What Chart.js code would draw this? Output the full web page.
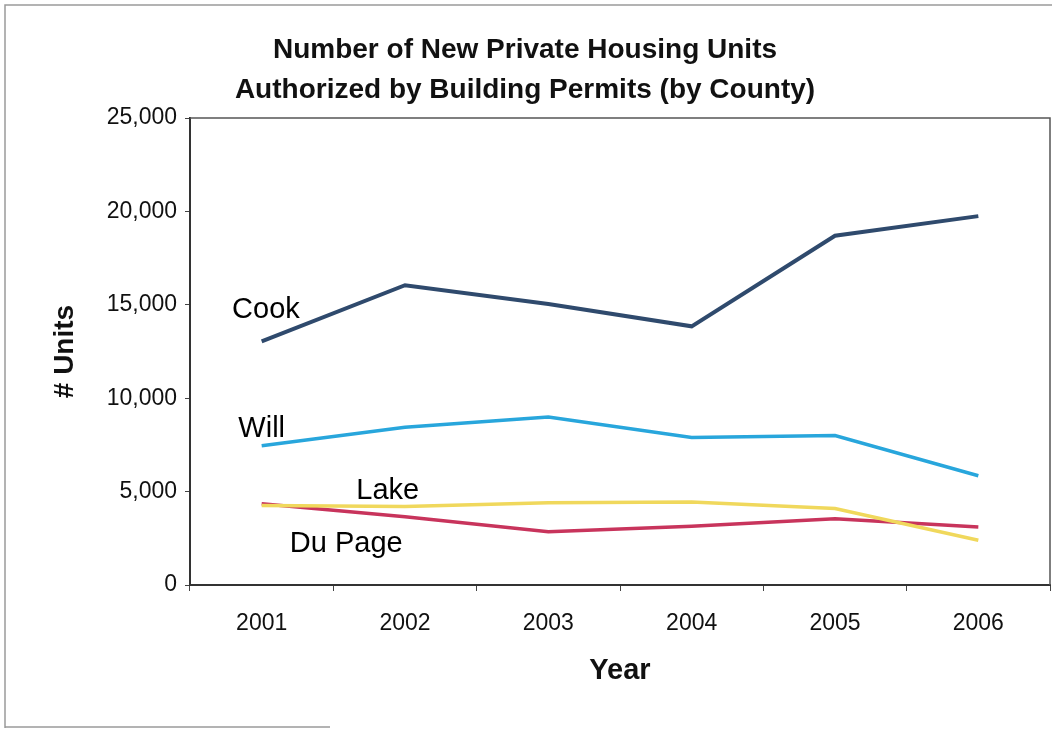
<!DOCTYPE html>
<html>
<head>
<meta charset="utf-8">
<script src="https://cdn.jsdelivr.net/npm/chart.js@4.4.0/dist/chart.umd.min.js"></script>
<style>
html,body{margin:0;padding:0;background:#fff;}
#wrap{width:1057px;height:730px;position:relative;}
</style>
</head>
<body>
<div id="wrap"><canvas id="c" width="1057" height="730"></canvas></div>
<script>
const years = ['2001','2002','2003','2004','2005','2006'];
const cook   = [13050, 16050, 15050, 13850, 18700, 19750];
const will   = [7450, 8450, 9000, 7900, 8000, 5850];
const lake   = [4250, 4200, 4400, 4450, 4100, 2400];
const dupage = [4350, 3650, 2850, 3150, 3550, 3100];
const yTicks = [0, 5000, 10000, 15000, 20000, 25000];
const seriesNames = ['Cook', 'Will', 'Lake', 'Du Page'];
// label anchors in data space: [category index, value]
const labelAnchors = [[0.03, 14750], [0.0, 8350], [0.88, 5050], [0.59, 2200]];

const FONT = "'Liberation Sans', Arial, sans-serif";

const decor = {
  id: 'decor',
  beforeDraw(chart) {
    const ctx = chart.ctx;
    ctx.save();
    ctx.fillStyle = '#fff';
    ctx.fillRect(0, 0, chart.width, chart.height);
    ctx.strokeStyle = '#9a9a9a';
    ctx.lineWidth = 1.5;
    ctx.beginPath();
    ctx.moveTo(5, 728); ctx.lineTo(5, 5); ctx.lineTo(1052, 5);
    ctx.moveTo(5, 727); ctx.lineTo(330, 727);
    ctx.stroke();
    ctx.restore();
  },
  afterDatasetsDraw(chart) {
    const ctx = chart.ctx;
    const a = chart.chartArea;
    ctx.save();
    ctx.strokeStyle = '#555';
    ctx.lineWidth = 1.5;
    ctx.beginPath();
    ctx.moveTo(a.left, a.top); ctx.lineTo(a.right, a.top); ctx.lineTo(a.right, a.bottom);
    ctx.stroke();
    ctx.fillStyle = '#000';
    ctx.font = '29px ' + FONT;
    ctx.textAlign = 'center';
    ctx.textBaseline = 'middle';
    const xs = chart.scales.x, ys = chart.scales.y;
    seriesNames.forEach((n, i) => {
      const [ci, v] = labelAnchors[i];
      const x0 = xs.getPixelForValue(0), x1 = xs.getPixelForValue(1);
      ctx.fillText(n, x0 + (x1 - x0) * ci, ys.getPixelForValue(v));
    });
    ctx.restore();
  }
};

new Chart(document.getElementById('c'), {
  type: 'line',
  data: {
    labels: years,
    datasets: [
      {label: 'Cook', data: cook, borderColor: '#2f4a6d', borderWidth: 4},
      {label: 'Will', data: will, borderColor: '#28a6dc', borderWidth: 3.5},
      {label: 'Lake', data: lake, borderColor: '#f0d85c', borderWidth: 3.5},
      {label: 'Du Page', data: dupage, borderColor: '#c8345c', borderWidth: 3.5}
    ]
  },
  options: {
    responsive: false,
    animation: false,
    devicePixelRatio: 1,
    elements: {point: {radius: 0}, line: {tension: 0}},
    layout: {padding: {left: 0, right: 7, top: 0, bottom: 20}},
    plugins: {
      legend: {display: false},
      tooltip: {enabled: false},
      title: {
        display: true,
        text: ['Number of New Private Housing Units', 'Authorized by Building Permits (by County)'],
        color: '#111',
        font: {family: FONT, size: 28, weight: 'bold', lineHeight: 1.43},
        padding: {top: 30, bottom: 8}
      }
    },
    scales: {
      x: {
        type: 'category',
        offset: true,
        grid: {display: true, drawOnChartArea: false, drawTicks: true, tickLength: 6, color: '#444', offset: true},
        border: {display: true, color: '#333', width: 2},
        ticks: {color: '#111', font: {family: FONT, size: 23}, padding: 19, maxRotation: 0},
        title: {display: true, text: 'Year', color: '#111', font: {family: FONT, size: 29, weight: 'bold'}, padding: {top: 0, bottom: 22}},
        afterFit(s) { s.height = 125; }
      },
      y: {
        min: 0, max: 25000,
        afterBuildTicks(s) { s.ticks = yTicks.map(v => ({value: v})); },
        grid: {display: true, drawOnChartArea: false, drawTicks: true, tickLength: 5, color: '#444'},
        border: {display: true, color: '#333', width: 2},
        ticks: {color: '#111', font: {family: FONT, size: 23}, padding: 8,
          callback: v => v.toLocaleString('en-US')},
        title: {display: true, text: '# Units', color: '#111', font: {family: FONT, size: 28, weight: 'bold'}, padding: {top: 48, bottom: 0}},
        afterFit(s) { s.width = 190; }
      }
    }
  },
  plugins: [decor]
});
</script>
</body>
</html>
